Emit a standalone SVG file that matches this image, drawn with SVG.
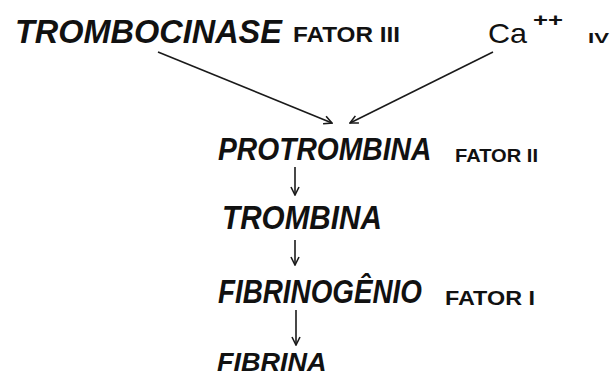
<svg xmlns="http://www.w3.org/2000/svg" width="610" height="377" viewBox="0 0 610 377">
<defs>
<style>
.big{font-family:"Liberation Sans","DejaVu Sans",sans-serif;font-weight:bold;font-style:italic;fill:#111}
.fat{font-family:"Liberation Sans","DejaVu Sans",sans-serif;font-weight:bold;fill:#111}
.ca{font-family:"Liberation Sans","DejaVu Sans",sans-serif;fill:#111}
.ln{stroke:#1a1a1a;stroke-width:1.6;fill:none}
</style>
<marker id="ah" markerWidth="10" markerHeight="10" refX="9" refY="5" orient="auto" markerUnits="userSpaceOnUse">
<path d="M1,1 L9,5 L1,9" fill="none" stroke="#1a1a1a" stroke-width="1.6"/>
</marker>
</defs>
<rect width="610" height="377" fill="#fff"/>
<g id="trombocinase">
<text class="big" transform="translate(15,43) scale(0.955,1)" font-size="34">TROMBOCINASE</text>
<text class="fat" x="293" y="42" font-size="22" textLength="107" lengthAdjust="spacingAndGlyphs">FATOR III</text>
</g>
<g id="calcio">
<text class="ca" x="488" y="43" font-size="28" textLength="39" lengthAdjust="spacingAndGlyphs">Ca</text>
<text class="fat" x="533" y="26" font-size="18" textLength="30" lengthAdjust="spacingAndGlyphs">++</text>
<text class="fat" x="588" y="43" font-size="15" textLength="21" lengthAdjust="spacingAndGlyphs">IV</text>
</g>
<g id="protrombina">
<text class="big" transform="translate(218,160) scale(0.911,1)" font-size="31">PROTROMBINA</text>
<text class="fat" x="455" y="162" font-size="19" textLength="83" lengthAdjust="spacingAndGlyphs">FATOR II</text>
</g>
<g id="trombina">
<text class="big" transform="translate(222,229) scale(0.873,1)" font-size="34">TROMBINA</text>
</g>
<g id="fibrinogenio">
<text class="big" transform="translate(218,303) scale(0.818,1)" font-size="34">FIBRINOGÊNIO</text>
<text class="fat" x="445" y="305" font-size="21" textLength="90" lengthAdjust="spacingAndGlyphs">FATOR I</text>
</g>
<g id="fibrina">
<text class="big" transform="translate(217,371) scale(1.04,1)" font-size="26">FIBRINA</text>
</g>
<g id="connectors">
<line class="ln" x1="158" y1="52" x2="332" y2="123" marker-end="url(#ah)"/>
<line class="ln" x1="493" y1="52" x2="350" y2="123" marker-end="url(#ah)"/>
<line class="ln" x1="295" y1="167" x2="295" y2="195" marker-end="url(#ah)"/>
<line class="ln" x1="295" y1="240" x2="295" y2="265" marker-end="url(#ah)"/>
<line class="ln" x1="296" y1="310" x2="296" y2="345" marker-end="url(#ah)"/>
</g>
</svg>
